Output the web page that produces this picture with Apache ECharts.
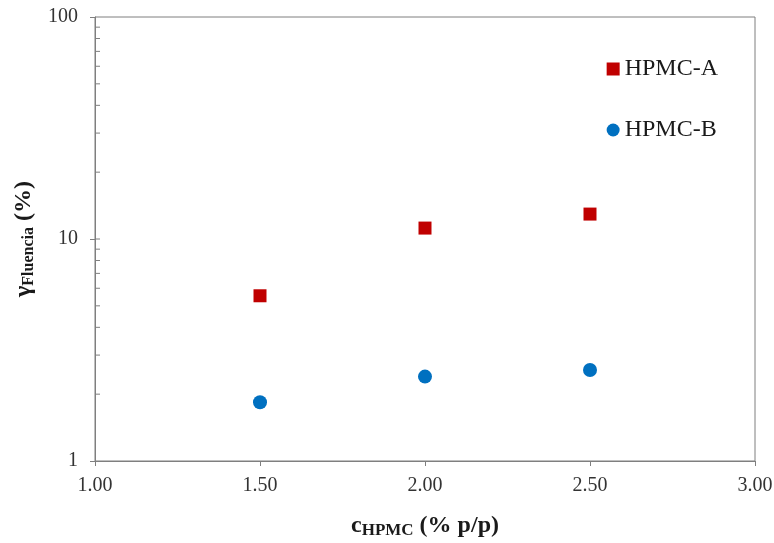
<!DOCTYPE html>
<html>
<head>
<meta charset="utf-8">
<script src="https://cdn.jsdelivr.net/npm/echarts@6/dist/echarts.min.js"></script>
<style>
  html, body { margin: 0; padding: 0; background: #fff; }
  #chart { width: 774px; height: 543px; }
</style>
</head>
<body>
<div id="chart"></div>
<script>
// HPMC concentration (% p/p)
const concentrations = [1.5, 2.0, 2.5];
// Creep strain values (%)
const hpmcA = [5.55, 11.2, 12.95];
const hpmcB = [1.84, 2.40, 2.57];
// Log-axis minor tick positions
const minorTicks = [2, 3, 4, 5, 6, 7, 8, 9, 10, 20, 30, 40, 50, 60, 70, 80, 90];

const FONT = '"Liberation Serif", "Times New Roman", serif';
const AXIS_COLOR = '#7f7f7f';

const chart = echarts.init(document.getElementById('chart'));

chart.setOption({
  animation: false,
  backgroundColor: '#ffffff',
  grid: {
    left: 95, right: 19, top: 17, bottom: 82,
    outerBoundsMode: 'none',
    containLabel: false,
    show: true, borderColor: AXIS_COLOR, borderWidth: 1
  },
  legend: {
    orient: 'vertical',
    right: 51, top: 52,
    itemGap: 37,
    itemWidth: 13, itemHeight: 13,
    textStyle: { fontFamily: FONT, fontSize: 24, color: '#1a1a1a' },
    data: [
      { name: 'HPMC-A', icon: 'rect' },
      { name: 'HPMC-B', icon: 'circle' }
    ]
  },
  xAxis: {
    type: 'value',
    min: 1, max: 3, interval: 0.5,
    splitLine: { show: false },
    axisLine: { lineStyle: { color: AXIS_COLOR, width: 1 } },
    axisTick: { length: 5, lineStyle: { color: AXIS_COLOR } },
    axisLabel: {
      fontFamily: FONT, fontSize: 20, color: '#333', margin: 15,
      formatter: v => v.toFixed(2)
    },
    name: '{b|c}{s|HPMC}{b| (% p/p)}',
    nameLocation: 'middle',
    nameGap: 51,
    nameTextStyle: {
      rich: {
        b: { fontFamily: FONT, fontSize: 24, fontWeight: 'bold', color: '#1a1a1a' },
        s: { fontFamily: FONT, fontSize: 17, fontWeight: 'bold', color: '#1a1a1a', padding: [10, 0, 0, 0] }
      }
    }
  },
  yAxis: {
    type: 'log',
    logBase: 10,
    min: 1, max: 100,
    splitLine: { show: false },
    axisLine: { lineStyle: { color: AXIS_COLOR, width: 1 } },
    axisTick: { length: 5, lineStyle: { color: AXIS_COLOR } },
    axisLabel: { fontFamily: FONT, fontSize: 20, color: '#333', margin: 17 },
    name: '{b|γ}{s|Fluencia}{b| (%)}',
    nameLocation: 'middle',
    nameGap: 52,
    nameTextStyle: {
      rich: {
        b: { fontFamily: FONT, fontSize: 24, fontWeight: 'bold', color: '#1a1a1a' },
        s: { fontFamily: FONT, fontSize: 16, fontWeight: 'bold', color: '#1a1a1a', padding: [10, 0, 0, 0] }
      }
    }
  },
  series: [
    {
      name: 'HPMC-A',
      type: 'scatter',
      symbol: 'rect',
      symbolSize: 13,
      itemStyle: { color: '#C00000', opacity: 1 },
      data: concentrations.map((c, i) => [c, hpmcA[i]])
    },
    {
      name: 'HPMC-B',
      type: 'scatter',
      symbol: 'circle',
      symbolSize: 14,
      itemStyle: { color: '#0070C0', opacity: 1 },
      data: concentrations.map((c, i) => [c, hpmcB[i]])
    },
    {
      // Inward minor ticks on the logarithmic axis
      name: 'minor',
      type: 'custom',
      silent: true,
      clip: false,
      legendHoverLink: false,
      data: minorTicks.map(v => [1, v]),
      renderItem: function (params, api) {
        const p = api.coord([api.value(0), api.value(1)]);
        return {
          type: 'line',
          shape: { x1: p[0], y1: p[1], x2: p[0] + 5, y2: p[1] },
          style: { stroke: AXIS_COLOR, lineWidth: 1 }
        };
      }
    }
  ]
});
</script>
</body>
</html>
